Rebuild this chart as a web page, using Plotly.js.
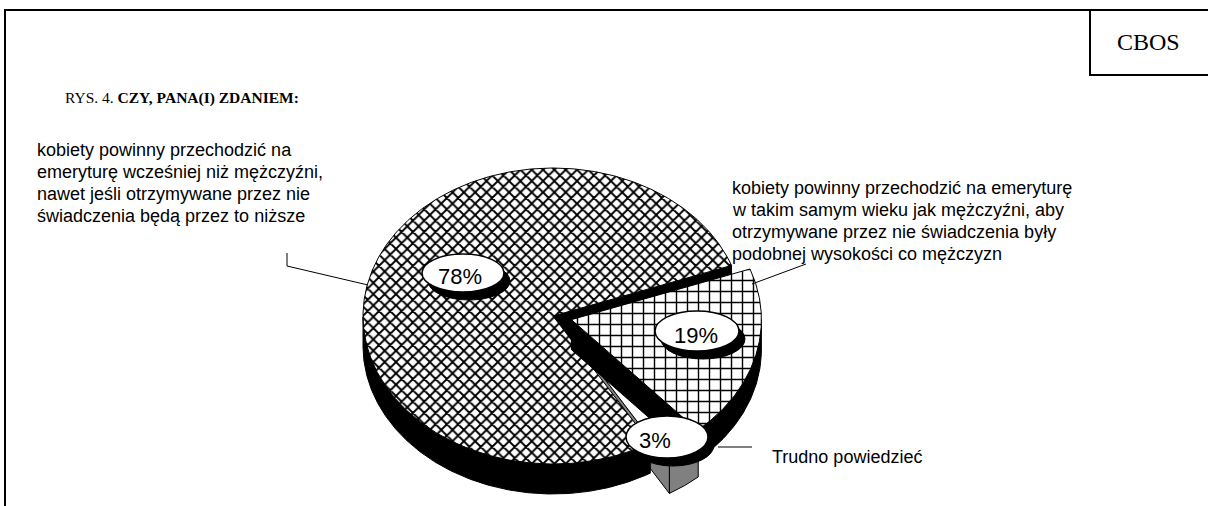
<!DOCTYPE html>
<html><head><meta charset="utf-8">
<script src="https://cdn.plot.ly/plotly-3.0.1.min.js"></script>
<style>html,body{margin:0;padding:0;background:#fff}</style>
</head><body><div id="chart" style="width:1208px;height:506px"></div>
<script>
// ---- data ----
const categories = [
  "kobiety powinny przechodzić na emeryturę wcześniej niż mężczyźni, nawet jeśli otrzymywane przez nie świadczenia będą przez to niższe",
  "kobiety powinny przechodzić na emeryturę w takim samym wieku jak mężczyźni, aby otrzymywane przez nie świadczenia były podobnej wysokości co mężczyzn",
  "Trudno powiedzieć"
];
const values = [78, 19, 3];
const labelLines = [
  ["kobiety powinny przechodzić na", "emeryturę wcześniej niż mężczyźni,", "nawet jeśli otrzymywane przez nie", "świadczenia będą przez to niższe"],
  ["kobiety powinny przechodzić na emeryturę", "w takim samym wieku jak mężczyźni, aby", "otrzymywane przez nie świadczenia były", "podobnej wysokości co mężczyzn"],
  ["Trudno powiedzieć"]
];
const titleNormal = "RYS. 4. ";
const titleBold = "CZY, PANA(I) ZDANIEM:";
const sourceLabel = "CBOS";

// ---- style / geometry ----
const W = 1208, H = 506;
const cx = 553, cy = 316, ra = 190, rb = 148, depth = 30;
const anchorDeg = 20;   // boundary between first and second slice, slices run clockwise
const explode = [0, 0.10, 0.17];
const drawOrder = [2, 0, 1];
const sideColor = ['#000000', '#000000', '#808080'];
const topPattern = [
  {shape: 'x', size: 8, solidity: 0.42, fgcolor: '#000', bgcolor: '#fff', fillmode: 'replace'},
  {shape: '+', size: 11, solidity: 0.24, fgcolor: '#000', bgcolor: '#fff', fillmode: 'replace'},
  null
];
const bubbles = [
  {cx: 463, cy: 273, rx: 41, ry: 19, tx: 460, ty: 276},
  {cx: 697, cy: 331, rx: 42, ry: 20, tx: 696, ty: 335},
  {cx: 667, cy: 437, rx: 41, ry: 21, tx: 655, ty: 440}
];
const labelBlocks = [
  {x: 35, y0: 150, dy: 22},
  {x: 730, y0: 188, dy: 22},
  {x: 770, y0: 457, dy: 22}
];
const labelFont = {family: 'Liberation Sans, Arial, sans-serif', size: 18, color: '#000'};

const rad = d => d * Math.PI / 180;
const total = values.reduce((s, v) => s + v, 0);
const startDeg = anchorDeg + values[0] / total * 360;

// build geometry for every slice
const sliceTraces = values.map(() => []);
function poly(i, xs, ys, fill, lineW, pattern) {
  const t = {
    x: xs, y: ys, type: 'scatter', mode: 'lines', fill: 'toself',
    fillcolor: fill, line: {color: '#000', width: lineW}, hoverinfo: 'skip', showlegend: false
  };
  if (pattern) t.fillpattern = pattern;
  sliceTraces[i].push(t);
}

let cum = 0;
values.forEach((v, i) => {
  const th0 = startDeg - cum / total * 360;
  const th1 = th0 - v / total * 360;
  cum += v;
  const mid = (th0 + th1) / 2;
  const ox = explode[i] * ra * Math.cos(rad(mid));
  const oy = -explode[i] * rb * Math.sin(rad(mid));
  const P = [cx + ox, cy + oy];
  const pt = t => [cx + ox + ra * Math.cos(rad(t)), cy + oy - rb * Math.sin(rad(t))];
  const arc = [];
  const n = Math.max(4, Math.ceil((th0 - th1) / 0.5));
  for (let k = 0; k <= n; k++) arc.push(th0 - (th0 - th1) * k / n);

  // front band (visible side)
  let run = [];
  const runs = [];
  arc.forEach(t => {
    if (Math.sin(rad(t)) <= 0.001) run.push(t);
    else { if (run.length > 1) runs.push(run); run = []; }
  });
  if (run.length > 1) runs.push(run);
  runs.forEach(r => {
    const xs = [], ys = [];
    r.forEach(t => { const p = pt(t); xs.push(p[0]); ys.push(p[1]); });
    for (let k = r.length - 1; k >= 0; k--) { const p = pt(r[k]); xs.push(p[0]); ys.push(p[1] + depth); }
    xs.push(xs[0]); ys.push(ys[0]);
    poly(i, xs, ys, sideColor[i], 1);
  });

  // radial faces (only those facing the viewer)
  [[th0, th0 - 1], [th1, th1 + 1]].forEach(([te, tin]) => {
    const Q = pt(te);
    const E = [Q[0] - P[0], Q[1] - P[1]];
    const Mi = [cx + ox + 0.5 * ra * Math.cos(rad(tin)), cy + oy - 0.5 * rb * Math.sin(rad(tin))];
    let nrm = [E[1], -E[0]];
    if (nrm[0] * (Mi[0] - P[0]) + nrm[1] * (Mi[1] - P[1]) > 0) nrm = [-nrm[0], -nrm[1]];
    if (nrm[1] > 0) {
      poly(i, [P[0], Q[0], Q[0], P[0], P[0]], [P[1], Q[1], Q[1] + depth, P[1] + depth, P[1]], sideColor[i], 1);
    }
  });

  // top face
  const xs = [P[0]], ys = [P[1]];
  arc.forEach(t => { const p = pt(t); xs.push(p[0]); ys.push(p[1]); });
  xs.push(P[0]); ys.push(P[1]);
  poly(i, xs, ys, '#ffffff', 1, topPattern[i]);
});
const traces = [];
drawOrder.forEach(i => sliceTraces[i].forEach(t => traces.push(t)));

// ---- shapes ----
const shapes = [
  {type: 'rect', xref: 'x', yref: 'y', x0: 5, y0: 10, x1: 1230, y1: 530, line: {color: '#000', width: 2}},
  {type: 'rect', xref: 'x', yref: 'y', x0: 1090, y0: 10, x1: 1230, y1: 75, line: {color: '#000', width: 2}},
  {type: 'path', xref: 'x', yref: 'y', path: 'M287,253 L287,266 L368,285', line: {color: '#000', width: 1}},
  {type: 'path', xref: 'x', yref: 'y', path: 'M752,284 L806,264', line: {color: '#000', width: 1}},
  {type: 'path', xref: 'x', yref: 'y', path: 'M718,447 L752,447', line: {color: '#000', width: 1}}
];
bubbles.forEach(bb => {
  shapes.push({type: 'circle', xref: 'x', yref: 'y', x0: bb.cx - bb.rx + 6, x1: bb.cx + bb.rx + 6,
    y0: bb.cy - bb.ry + 8, y1: bb.cy + bb.ry + 8, fillcolor: '#000', line: {color: '#000', width: 1}});
  shapes.push({type: 'circle', xref: 'x', yref: 'y', x0: bb.cx - bb.rx, x1: bb.cx + bb.rx,
    y0: bb.cy - bb.ry, y1: bb.cy + bb.ry, fillcolor: '#fff', line: {color: '#000', width: 1.5}});
});

// ---- annotations ----
const annotations = [];
labelLines.forEach((lines, i) => {
  lines.forEach((ln, k) => {
    annotations.push({x: labelBlocks[i].x, y: labelBlocks[i].y0 + k * labelBlocks[i].dy, xref: 'x', yref: 'y',
      text: ln, showarrow: false, xanchor: 'left', yanchor: 'middle', font: labelFont});
  });
});
values.forEach((v, i) => {
  annotations.push({x: bubbles[i].tx, y: bubbles[i].ty, xref: 'x', yref: 'y', text: v + '%', showarrow: false,
    xanchor: 'center', yanchor: 'middle', font: {family: 'Liberation Sans, Arial, sans-serif', size: 22, color: '#000'}});
});
annotations.push({x: 63, y: 98, xref: 'x', yref: 'y', text: titleNormal + '<b>' + titleBold + '</b>', showarrow: false,
  xanchor: 'left', yanchor: 'middle', font: {family: 'Liberation Serif, Times New Roman, serif', size: 15.5, color: '#000'}});
annotations.push({x: 1148, y: 42, xref: 'x', yref: 'y', text: sourceLabel, showarrow: false,
  xanchor: 'center', yanchor: 'middle', font: {family: 'Liberation Serif, Times New Roman, serif', size: 24, color: '#000'}});

const layout = {
  width: W, height: H, margin: {l: 0, r: 0, t: 0, b: 0},
  paper_bgcolor: '#fff', plot_bgcolor: '#fff',
  xaxis: {range: [0, W], visible: false, fixedrange: true},
  yaxis: {range: [H, 0], visible: false, fixedrange: true},
  shapes: shapes, annotations: annotations, showlegend: false, hovermode: false
};
Plotly.newPlot('chart', traces, layout, {displayModeBar: false, staticPlot: true});
</script></body></html>
